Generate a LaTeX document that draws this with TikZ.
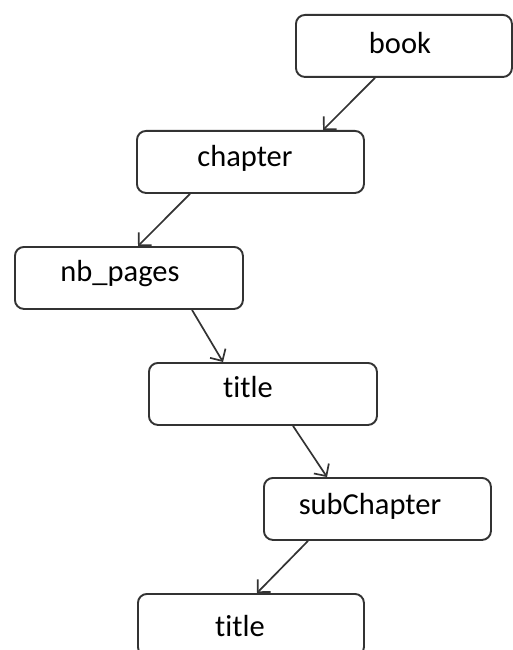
\documentclass[tikz,border=0pt]{standalone}
\usepackage{fontspec}
\setmainfont[Ligatures=NoCommon]{Carlito}
\usetikzlibrary{arrows.meta,calc}
\definecolor{edge}{HTML}{333333}
\tikzset{
  box/.style={draw=edge, line width=1.9pt, rounded corners=9pt, anchor=north west,
    minimum height=62pt, inner sep=0pt},
  lbl/.style={font=\fontsize{30.5}{36}\selectfont, text=black, inner sep=0pt},
  arr/.style={draw=edge, line width=1.7pt, -{Straight Barb[length=9pt,width=18pt,line width=1.7pt]}}
}
\begin{document}
\begin{tikzpicture}[x=1pt,y=1pt]
\useasboundingbox (0,0) rectangle (513,-650);
\clip (0,0) rectangle (513,-650);
% boxes
\node[box, minimum width=216pt] (book) at (295,-14) {};
\node[box, minimum width=227pt] (chapter) at (136,-130) {};
\node[box, minimum width=228pt] (nbpages) at (14,-246) {};
\node[box, minimum width=228pt] (title) at (148,-362) {};
\node[box, minimum width=227pt] (sub) at (263,-477) {};
\node[box, minimum width=226pt] (title2) at (137,-593) {};
% labels
\node[lbl] (tbook) at (400,-43) {book};
\node[lbl] (tchapter) at (245,-158) {chapter};
\node[lbl] (tnb) at (120,-274) {nb\_pages};
\node[lbl] (ttitle) at (248,-387) {title};
\node[lbl] (tsub) at (370,-506) {subChapter};
\node[lbl] (ttitle2) at (240,-626) {title};
% connectors
\draw[arr] ($(book.south west)+(80,0)$) -- ($(chapter.north west)+(187,0)$);
\draw[arr] ($(chapter.south west)+(54,0)$) -- ($(nbpages.north west)+(124,0)$);
\draw[arr] ($(nbpages.south west)+(178,0)$) -- ($(title.north west)+(75,0)$);
\draw[arr] ($(title.south west)+(145,0)$) -- ($(sub.north west)+(64,0)$);
\draw[arr] ($(sub.south west)+(45,0)$) -- ($(title2.north west)+(120,0)$);
\end{tikzpicture}
\end{document}
